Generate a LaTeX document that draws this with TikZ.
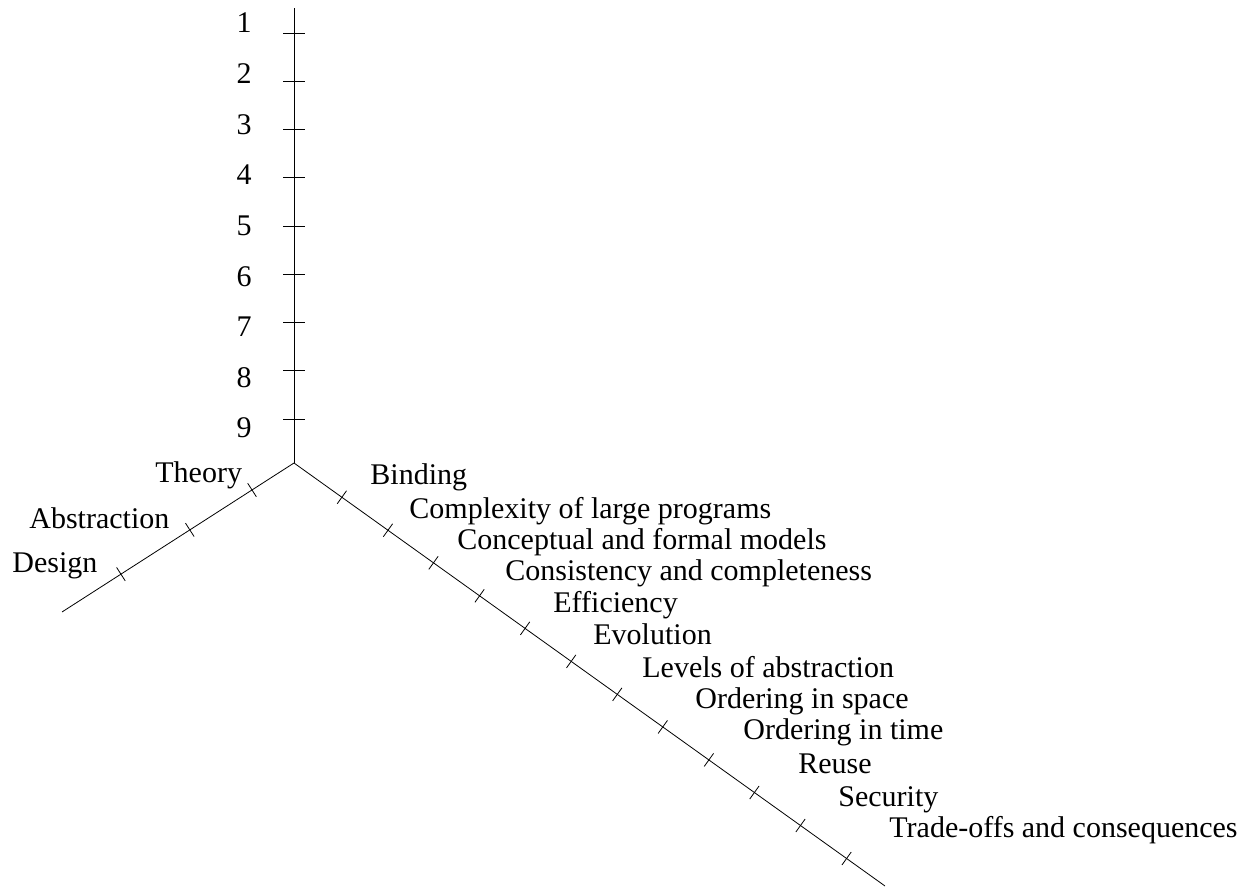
\documentclass[tikz,border=0pt]{standalone}
\usepackage{fontspec}
\setmainfont{Liberation Serif}
\usetikzlibrary{calc}
\tikzset{lbl/.style={anchor=base west, inner sep=0pt},
         num/.style={anchor=base, inner sep=0pt}}

\begin{document}
\begin{tikzpicture}[x=0.5pt,y=-0.5pt,font=\fontsize{15}{18}\selectfont]
\useasboundingbox (0,0) rectangle (1253,892);

\coordinate (o) at (294,463);
\coordinate (ztop) at (294,8);
\coordinate (xend) at (62,612);
\coordinate (yend) at (885,886);
\draw (o) -- (ztop);
\draw (o) -- (xend);
\draw (o) -- (yend);

% ticks on the vertical axis
\coordinate (z1) at (294,33);
\coordinate (z2) at (294,81.25);
\coordinate (z3) at (294,129.5);
\coordinate (z4) at (294,177.75);
\coordinate (z5) at (294,226);
\coordinate (z6) at (294,274.25);
\coordinate (z7) at (294,322.5);
\coordinate (z8) at (294,370.75);
\coordinate (z9) at (294,419);
\draw ($(z1)+(-11,0)$) -- ($(z1)+(11,0)$);
\draw ($(z2)+(-11,0)$) -- ($(z2)+(11,0)$);
\draw ($(z3)+(-11,0)$) -- ($(z3)+(11,0)$);
\draw ($(z4)+(-11,0)$) -- ($(z4)+(11,0)$);
\draw ($(z5)+(-11,0)$) -- ($(z5)+(11,0)$);
\draw ($(z6)+(-11,0)$) -- ($(z6)+(11,0)$);
\draw ($(z7)+(-11,0)$) -- ($(z7)+(11,0)$);
\draw ($(z8)+(-11,0)$) -- ($(z8)+(11,0)$);
\draw ($(z9)+(-11,0)$) -- ($(z9)+(11,0)$);

% ticks on the left axis
\coordinate (x1) at ($(o)!0.181!(xend)$);
\coordinate (x2) at ($(o)!0.449!(xend)$);
\coordinate (x3) at ($(o)!0.746!(xend)$);
\draw ($(x1)!4pt!90:(xend)$) -- ($(x1)!4pt!-90:(xend)$);
\draw ($(x2)!4pt!90:(xend)$) -- ($(x2)!4pt!-90:(xend)$);
\draw ($(x3)!4pt!90:(xend)$) -- ($(x3)!4pt!-90:(xend)$);

% ticks on the right axis
\coordinate (y1) at ($(o)!0.081!(yend)$);
\coordinate (y2) at ($(o)!0.159!(yend)$);
\coordinate (y3) at ($(o)!0.236!(yend)$);
\coordinate (y4) at ($(o)!0.314!(yend)$);
\coordinate (y5) at ($(o)!0.391!(yend)$);
\coordinate (y6) at ($(o)!0.469!(yend)$);
\coordinate (y7) at ($(o)!0.547!(yend)$);
\coordinate (y8) at ($(o)!0.624!(yend)$);
\coordinate (y9) at ($(o)!0.702!(yend)$);
\coordinate (y10) at ($(o)!0.779!(yend)$);
\coordinate (y11) at ($(o)!0.857!(yend)$);
\coordinate (y12) at ($(o)!0.935!(yend)$);
\draw ($(y1)!4pt!90:(yend)$) -- ($(y1)!4pt!-90:(yend)$);
\draw ($(y2)!4pt!90:(yend)$) -- ($(y2)!4pt!-90:(yend)$);
\draw ($(y3)!4pt!90:(yend)$) -- ($(y3)!4pt!-90:(yend)$);
\draw ($(y4)!4pt!90:(yend)$) -- ($(y4)!4pt!-90:(yend)$);
\draw ($(y5)!4pt!90:(yend)$) -- ($(y5)!4pt!-90:(yend)$);
\draw ($(y6)!4pt!90:(yend)$) -- ($(y6)!4pt!-90:(yend)$);
\draw ($(y7)!4pt!90:(yend)$) -- ($(y7)!4pt!-90:(yend)$);
\draw ($(y8)!4pt!90:(yend)$) -- ($(y8)!4pt!-90:(yend)$);
\draw ($(y9)!4pt!90:(yend)$) -- ($(y9)!4pt!-90:(yend)$);
\draw ($(y10)!4pt!90:(yend)$) -- ($(y10)!4pt!-90:(yend)$);
\draw ($(y11)!4pt!90:(yend)$) -- ($(y11)!4pt!-90:(yend)$);
\draw ($(y12)!4pt!90:(yend)$) -- ($(y12)!4pt!-90:(yend)$);

\node[num] (n1) at (244,33) {1};
\node[num] (n2) at (244,83.6) {2};
\node[num] (n3) at (244,134.2) {3};
\node[num] (n4) at (244,184.9) {4};
\node[num] (n5) at (244,235.5) {5};
\node[num] (n6) at (244,286.1) {6};
\node[num] (n7) at (244,336.7) {7};
\node[num] (n8) at (244,387.4) {8};
\node[num] (n9) at (244,438) {9};

\node[lbl] (theory) at (155,483) {Theory};
\node[lbl] (abstr) at (29,529) {Abstraction};
\node[lbl] (design) at (12,573) {Design};

\node[lbl] (c1) at (370,485) {Binding};
\node[lbl] (c2) at (409,519) {Complexity of large programs};
\node[lbl] (c3) at (457,550) {Conceptual and formal models};
\node[lbl] (c4) at (505,581) {Consistency and completeness};
\node[lbl] (c5) at (553,613) {Efficiency};
\node[lbl] (c6) at (593,645) {Evolution};
\node[lbl] (c7) at (642,677) {Levels of abstraction};
\node[lbl] (c8) at (695,708) {Ordering in space};
\node[lbl] (c9) at (743,740) {Ordering in time};
\node[lbl] (c10) at (798,773) {Reuse};
\node[lbl] (c11) at (838,806) {Security};
\node[lbl] (c12) at (889,837) {Trade-offs and consequences};
\end{tikzpicture}
\end{document}
